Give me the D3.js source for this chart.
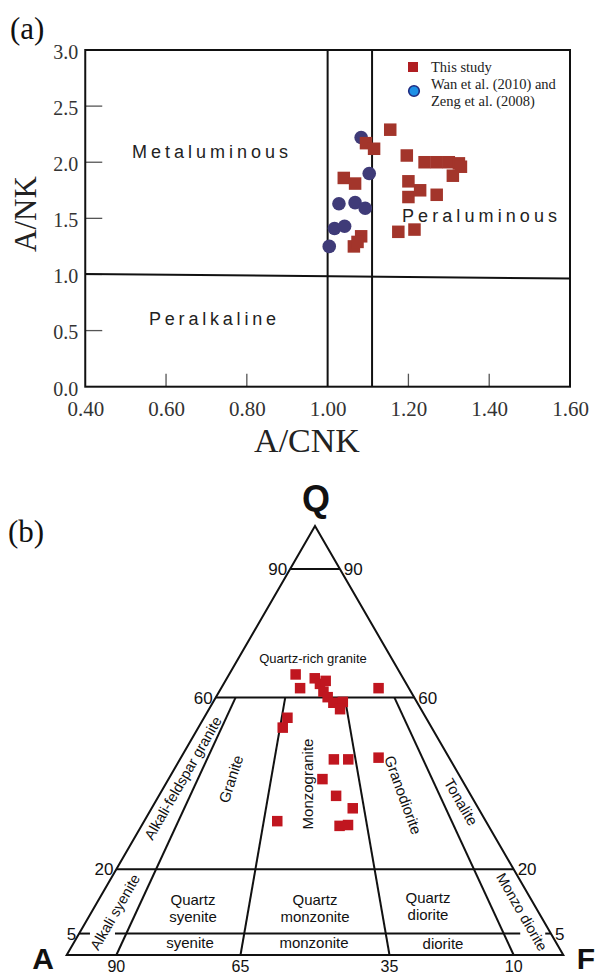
<!DOCTYPE html>
<html>
<head>
<meta charset="utf-8">
<script src="https://cdn.jsdelivr.net/npm/d3@7"></script>
<style>
  html, body { margin: 0; padding: 0; background: #fff; }
  svg { display: block; }
</style>
</head>
<body>
<svg id="fig" width="598" height="975"></svg>
<script>
// ---------- (a) A/NK vs A/CNK ----------
const xTicks = [0.40, 0.60, 0.80, 1.00, 1.20, 1.40, 1.60];
const yTicks = [0.0, 0.5, 1.0, 1.5, 2.0, 2.5, 3.0];

// This study (A/CNK, A/NK)
const studyACNK = [1.155, 1.095, 1.115, 1.196, 1.24, 1.27, 1.30, 1.325, 1.33, 1.31,
                   1.04, 1.068, 1.20, 1.20, 1.229, 1.27, 1.175, 1.215, 1.065, 1.083, 1.074];
const studyANK  = [2.29, 2.17, 2.12, 2.06, 2.00, 2.00, 2.00, 1.99, 1.96, 1.88,
                   1.86, 1.81, 1.83, 1.69, 1.75, 1.71, 1.38, 1.40, 1.25, 1.34, 1.29];

// Wan et al. (2010) and Zeng et al. (2008)
const refACNK = [1.083, 1.103, 1.028, 1.068, 1.093, 1.017, 1.042, 1.004];
const refANK  = [2.22, 1.90, 1.63, 1.64, 1.59, 1.41, 1.43, 1.25];

// ---------- (b) Q-A-P ternary (percent) ----------
const qapQ = [65.4, 62.2, 64.5, 63.2, 63.9, 61.4, 60.1, 58.8, 59.0, 57.3, 62.2,
              55.3, 53.0, 45.6, 45.6, 46.0, 41.0, 37.1, 34.2, 31.2, 30.1, 30.3];
const qapA = [21.2, 21.9, 17.8, 17.4, 15.9, 17.6, 17.4, 16.9, 14.9, 16.3, 6.1,
              27.9, 30.0, 23.4, 20.5, 14.2, 28.0, 27.2, 25.3, 42.0, 30.0, 28.2];
const qapP = [13.4, 15.9, 17.7, 19.4, 20.2, 21.0, 22.5, 24.3, 26.1, 26.4, 31.7,
              16.8, 17.0, 31.0, 33.9, 39.8, 31.0, 35.7, 40.5, 26.8, 39.9, 41.5];

const qLevels = [90, 60, 20, 5];          // quartz boundaries
const ratioLines = [90, 65, 35, 10];       // A/(A+P) boundaries, from Q=0 to Q=60

const svg = d3.select("#fig");
const serif = "'Liberation Serif', 'Times New Roman', serif";
const sans = "'Liberation Sans', Arial, sans-serif";

// ===== Panel (a) =====
const x = d3.scaleLinear().domain([0.4, 1.6]).range([85.25, 570]);
const y = d3.scaleLinear().domain([0, 3]).range([386.7, 50]);

const ga = svg.append("g");

// tick labels via axes (no tick lines; marks drawn inward below)
const xAxis = d3.axisBottom(x).tickValues(xTicks).tickFormat(d3.format(".2f")).tickSize(0).tickPadding(0);
ga.append("g").attr("transform", `translate(0,${y(0)})`).call(xAxis)
  .call(g => g.select(".domain").remove())
  .selectAll("text").attr("font-family", serif).attr("font-size", 21).attr("fill", "#333")
  .attr("dy", null).attr("y", 29);

const yAxis = d3.axisLeft(y).tickValues(yTicks).tickFormat(d3.format(".1f")).tickSize(0).tickPadding(0);
ga.append("g").attr("transform", `translate(${x(0.4)},0)`).call(yAxis)
  .call(g => g.select(".domain").remove())
  .selectAll("text").attr("font-family", serif).attr("font-size", 20).attr("fill", "#333")
  .attr("x", -7).attr("dy", "0.42em");

// inward tick marks
ga.selectAll(".ytk").data(yTicks.filter(d => d > 0 && d < 3)).join("line")
  .attr("x1", x(0.4)).attr("x2", x(0.4) + 17)
  .attr("y1", d => y(d)).attr("y2", d => y(d))
  .attr("stroke", "#555").attr("stroke-width", 1.3);
ga.selectAll(".xtk").data(xTicks.filter(d => d > 0.4 && d < 1.6 && d !== 1.0)).join("line")
  .attr("x1", d => x(d)).attr("x2", d => x(d))
  .attr("y1", y(0)).attr("y2", y(0) - 13)
  .attr("stroke", "#555").attr("stroke-width", 1.3);

// frame
ga.append("rect").attr("x", x(0.4)).attr("y", y(3))
  .attr("width", x(1.6) - x(0.4)).attr("height", y(0) - y(3))
  .attr("fill", "none").attr("stroke", "#111").attr("stroke-width", 2);

// field boundaries
[1.0, 1.11].forEach(v => {
  ga.append("line").attr("x1", x(v)).attr("x2", x(v)).attr("y1", y(0)).attr("y2", y(3))
    .attr("stroke", "#111").attr("stroke-width", 2);
});
ga.append("line").attr("x1", x(0.4)).attr("y1", y(1.005)).attr("x2", x(1.6)).attr("y2", y(0.963))
  .attr("stroke", "#111").attr("stroke-width", 2);

// field names
const fieldA = [
  { t: "Metaluminous", cx: 210, cy: 158, w: 156 },
  { t: "Peraluminous", cx: 479.5, cy: 222, w: 155 },
  { t: "Peralkaline", cx: 212.5, cy: 325, w: 127 }
];
ga.selectAll(".fld").data(fieldA).join("text")
  .attr("x", d => d.cx - d.w / 2).attr("y", d => d.cy)
  .attr("textLength", d => d.w).attr("lengthAdjust", "spacing")
  .attr("font-family", sans).attr("font-size", 18).attr("fill", "#222")
  .text(d => d.t);

// reference circles
ga.selectAll(".ref").data(refACNK).join("circle")
  .attr("cx", (d, i) => x(d)).attr("cy", (d, i) => y(refANK[i])).attr("r", 6.8)
  .attr("fill", "#3f3b78");

// this study squares
const sq = 12.5;
ga.selectAll(".stu").data(studyACNK).join("rect")
  .attr("x", d => x(d) - sq / 2).attr("y", (d, i) => y(studyANK[i]) - sq / 2)
  .attr("width", sq).attr("height", sq).attr("fill", "#a3352b");

// legend
ga.append("rect").attr("x", 408).attr("y", 62).attr("width", 10).attr("height", 10).attr("fill", "#b01e22");
ga.append("circle").attr("cx", 414).attr("cy", 91).attr("r", 5.3)
  .attr("fill", "#1e90e6").attr("stroke", "#1f2a80").attr("stroke-width", 1.6);
const leg = ga.append("text").attr("font-family", serif).attr("font-size", 14.5).attr("fill", "#222");
leg.append("tspan").attr("x", 431).attr("y", 72).text("This study");
leg.append("tspan").attr("x", 431).attr("y", 89).text("Wan et al. (2010) and");
leg.append("tspan").attr("x", 431).attr("y", 106).text("Zeng et al. (2008)");

// axis titles
ga.append("text").attr("transform", `translate(36,${214}) rotate(-90)`)
  .attr("text-anchor", "middle").attr("font-family", serif).attr("font-size", 31).attr("fill", "#222")
  .text("A/NK");
ga.append("text").attr("x", 307).attr("y", 452)
  .attr("text-anchor", "middle").attr("font-family", serif).attr("font-size", 34).attr("fill", "#222")
  .text("A/CNK");

svg.append("text").attr("x", 10).attr("y", 39).attr("font-family", serif).attr("font-size", 31).attr("fill", "#111").text("(a)");
svg.append("text").attr("x", 8).attr("y", 542).attr("font-family", serif).attr("font-size", 31).attr("fill", "#111").text("(b)");

// ===== Panel (b) =====
// horizontal position from (P + Q/2), vertical from Q
const tx = d3.scaleLinear().domain([0, 100]).range([66.7, 563.3]);
const ty = d3.scaleLinear().domain([0, 100]).range([955, 526]);
const proj = (q, p) => [tx(p + q / 2), ty(q)];
// point on a Q level at given A/(A+P) percent
const onLevel = (q, aRatio) => proj(q, (100 - q) * (100 - aRatio) / 100);

const gb = svg.append("g");
const line = d3.line();
const stroke = l => l.attr("fill", "none").attr("stroke", "#111").attr("stroke-width", 2);

// outer triangle
gb.append("path").attr("d", line([proj(0, 0), proj(100, 0), proj(0, 100)]) + "Z").call(stroke);

// quartz levels
gb.append("path").attr("d", line([onLevel(90, 100), onLevel(90, 0)])).call(stroke);
gb.append("path").attr("d", line([onLevel(60, 100), onLevel(60, 0)])).call(stroke);
gb.append("path").attr("d", line([onLevel(20, 100), onLevel(20, 0)])).call(stroke);
// Q=5 line, broken where the rotated names cross it
[[100, 97.7], [92.4, 6.5], [1.2, 0]].forEach(s =>
  gb.append("path").attr("d", line([onLevel(5, s[0]), onLevel(5, s[1])])).call(stroke));

// A/(A+P) ratio lines
ratioLines.forEach(r =>
  gb.append("path").attr("d", line([onLevel(0, r), onLevel(60, r)])).call(stroke));

// side labels
const lab = (t, px, py, size, anchor, extra) => {
  const e = gb.append("text").attr("x", px).attr("y", py).attr("font-family", sans)
    .attr("font-size", size).attr("fill", "#111").attr("text-anchor", anchor || "middle").text(t);
  if (extra) extra(e);
  return e;
};
qLevels.forEach(q => {
  const [lx, ly] = onLevel(q, 100);
  const [rx, ry] = onLevel(q, 0);
  lab(String(q), lx - 3, ly + 6, 17, "end");
  lab(String(q), rx + 4, ry + 6, 17, "start");
});
ratioLines.forEach(r => {
  const [bx] = onLevel(0, r);
  lab(String(r), bx, 972, 16, "middle");
});

// apex letters
lab("Q", 316, 511, 36, "middle", e => e.attr("font-weight", "bold"));
lab("A", 43, 969, 30, "middle", e => e.attr("font-weight", "bold"));
lab("F", 586, 969, 30, "middle", e => e.attr("font-weight", "bold"));

// field names
const rot = (t, cx, cy, ang, size) =>
  gb.append("text").attr("transform", `translate(${cx},${cy}) rotate(${ang})`)
    .attr("text-anchor", "middle").attr("dy", "0.35em").attr("font-family", sans)
    .attr("font-size", size).attr("fill", "#111").text(t);

lab("Quartz-rich granite", 313, 663, 13, "middle");
rot("Alkali-feldspar granite", 183, 778, -60, 14.5);
rot("Granite", 231, 779, -72, 15);
rot("Monzogranite", 308, 784, -90, 15);
rot("Granodiorite", 403, 795, 70, 15);
rot("Tonalite", 461, 802, 60, 15);
rot("Alkali syenite", 115, 912, -60, 14.5);
rot("Monzo diorite", 522, 912, 60, 14.5);

const two = (a, b, cx, y1) => {
  lab(a, cx, y1, 15, "middle");
  lab(b, cx, y1 + 17, 15, "middle");
};
two("Quartz", "syenite", 193, 905);
two("Quartz", "monzonite", 315, 905);
two("Quartz", "diorite", 428, 903);
lab("syenite", 190, 948, 15, "middle");
lab("monzonite", 314, 948, 15, "middle");
lab("diorite", 443, 949, 15, "middle");

// samples
const s2 = 10.5;
gb.selectAll(".qap").data(qapQ).join("rect")
  .attr("x", (d, i) => proj(d, qapP[i])[0] - s2 / 2)
  .attr("y", (d, i) => proj(d, qapP[i])[1] - s2 / 2)
  .attr("width", s2).attr("height", s2).attr("fill", "#c0161f");
</script>
</body>
</html>
